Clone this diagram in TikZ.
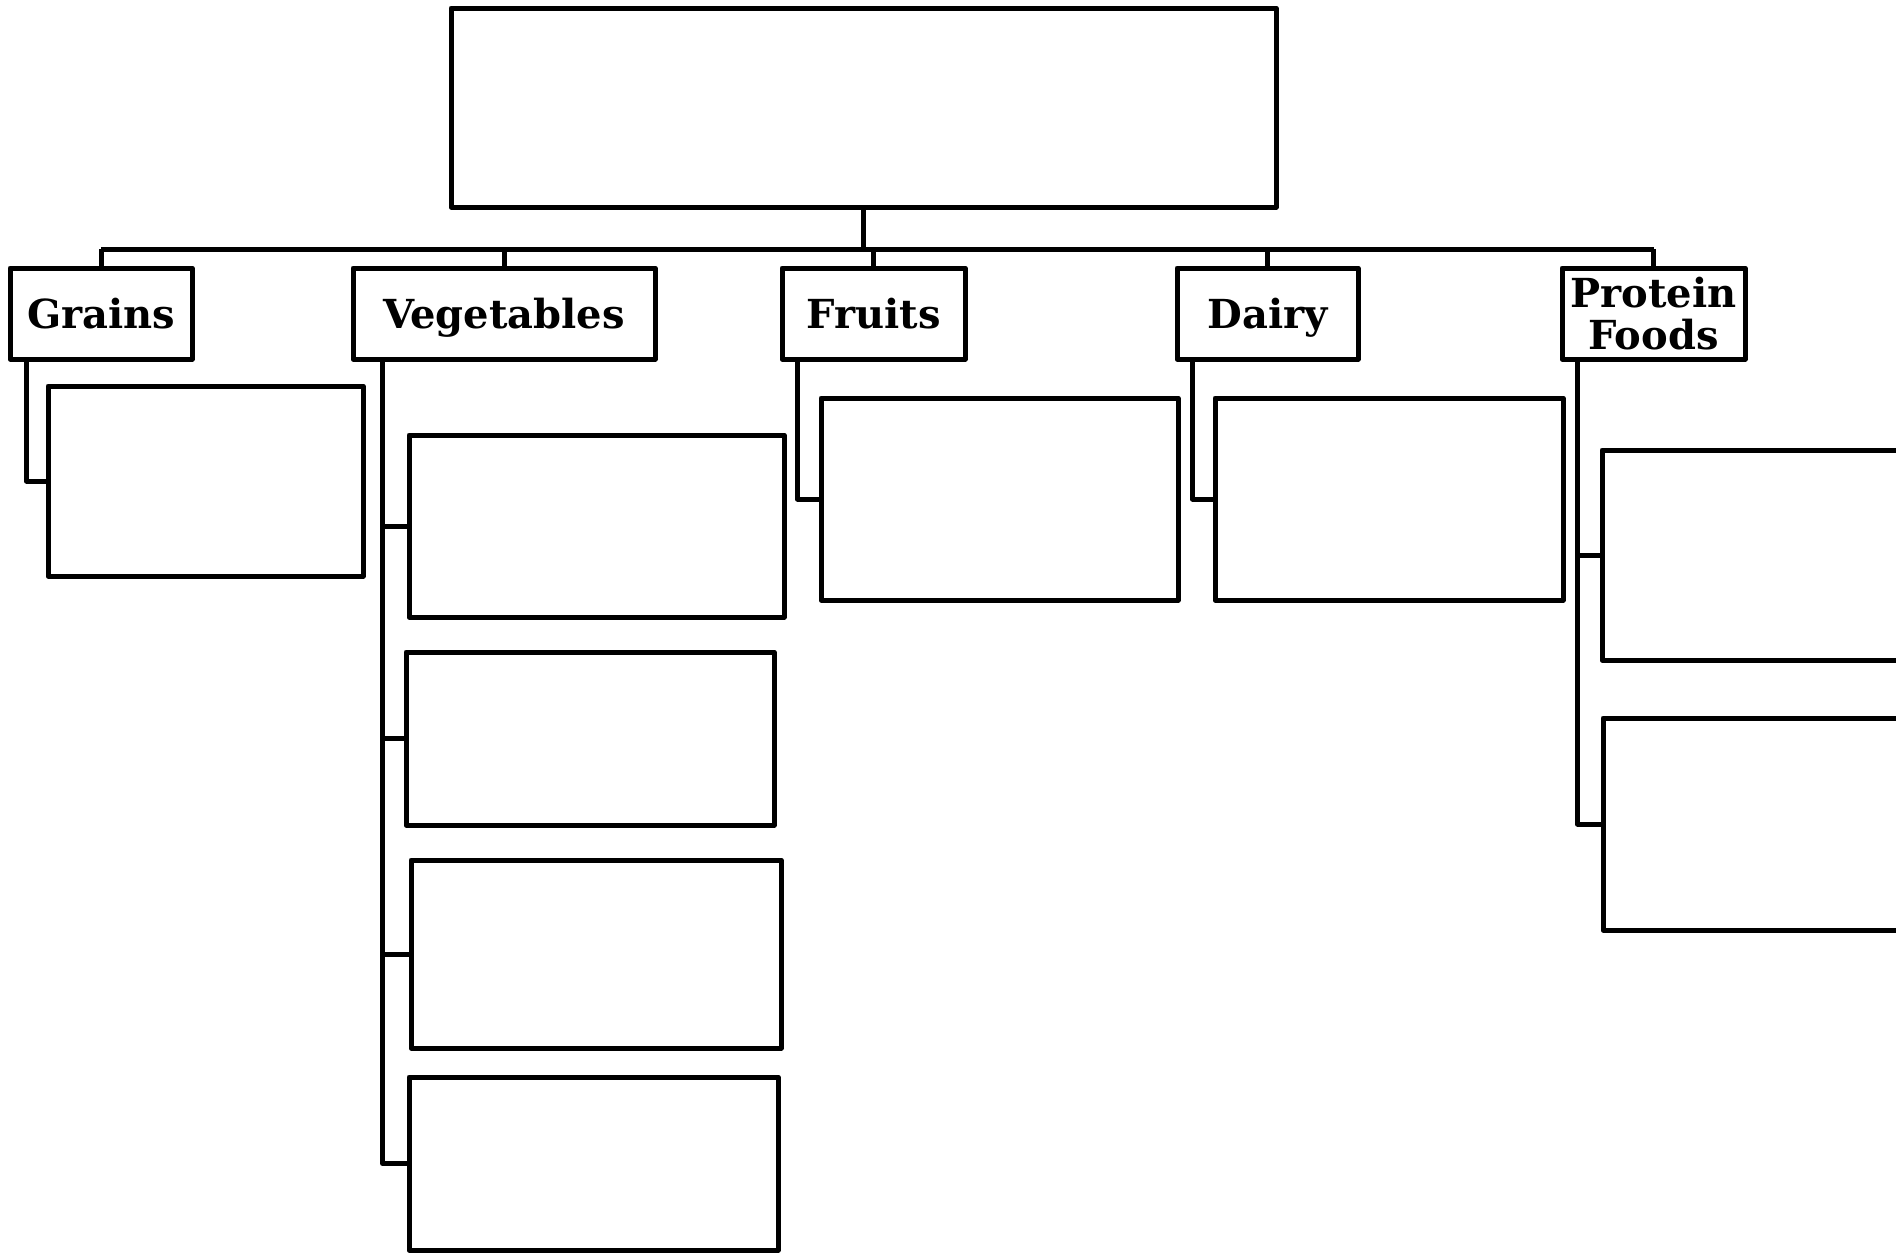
\documentclass[tikz,border=0pt]{standalone}
\usepackage{fontspec}
\setmainfont{DejaVu Serif}
\usetikzlibrary{positioning}

\begin{document}
\begin{tikzpicture}[x=1pt,y=-1pt,line width=5pt,line join=round,
  blank/.style={draw,fill=white,inner sep=0pt},
  size/.style args={#1x#2}{minimum width=#1pt,minimum height=#2pt},
  group/.style={blank,size=#1,font=\fontsize{40}{42}\selectfont\bfseries,align=center},
  oneline/.style={text height=30pt,text depth=0pt}]

\useasboundingbox (0,0) rectangle (1896,1253);

\node[blank,size=825x199] (food) at (863.5,107.5) {};
\coordinate (bus) at (0,249);

\node[group=182x91,oneline] (grains) at (101,313.5) {Grains};
\node[group=302x91,oneline] (veg) at (504,313.5) {Vegetables};
\node[group=183x91,oneline] (fruits) at (873.5,313.5) {Fruits};
\node[group=181x91,oneline] (dairy) at (1267.5,313.5) {Dairy};
\node[group=183x91] (protein) at (1653.5,313.5) {Protein\\Foods};

\node[blank,size=315x190] (g1) at (205.5,481) {};
\node[blank,size=375x182] (v1) at (596.5,526) {};
\node[blank,size=368x173] (v2) at (590,738.5) {};
\node[blank,size=370x188] (v3) at (596,954) {};
\node[blank,size=369x173] (v4) at (593.5,1163.5) {};
\node[blank,size=357x202] (f1) at (999.5,499) {};
\node[blank,size=348x202] (d1) at (1389,499) {};
\node[blank,size=328x210] (p1) at (1766,555) {};
\node[blank,size=327x212] (p2) at (1766.5,824) {};

\draw (food.south) -- (food.south |- bus);
\draw (grains.north |- bus) -- (protein.north |- bus);
\foreach \g in {grains,veg,fruits,dairy,protein}
  \draw (\g.north) -- (\g.north |- bus);

\draw ([xshift=19pt]grains.south west) |- (g1.west);
\foreach \c in {v1,v2,v3,v4}
  \draw ([xshift=32pt]veg.south west) |- (\c.west);
\draw ([xshift=18pt]fruits.south west) |- (f1.west);
\draw ([xshift=18pt]dairy.south west) |- (d1.west);
\foreach \c in {p1,p2}
  \draw ([xshift=18pt]protein.south west) |- (\c.west);
\end{tikzpicture}
\end{document}
